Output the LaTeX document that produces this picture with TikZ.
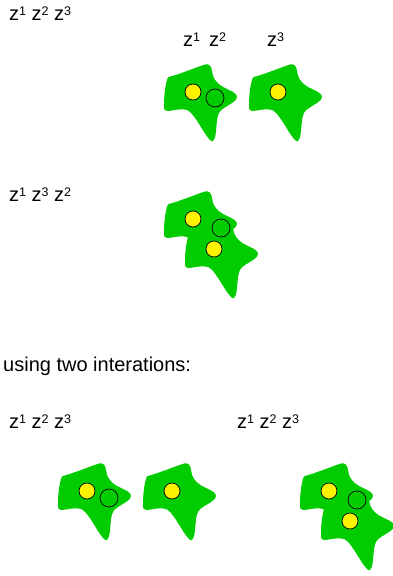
\documentclass[tikz,border=0pt]{standalone}
\usepackage{fontspec}
\setmainfont{Liberation Sans}
\definecolor{blobgreen}{RGB}{0,204,0}
\newcommand{\zsup}[1]{\raisebox{5pt}{\fontsize{12.5}{12.5}\selectfont #1}}
\tikzset{
  blob/.pic={\fill[blobgreen] (-24,-15)
     .. controls (-10,-19) and (4,-25) .. (12,-27.5)
     .. controls (16,-28.5) and (18.5,-26) .. (19,-21)
     .. controls (20,-14) and (22,-10) .. (30,-5)
     .. controls (38,-1) and (44,1) .. (44,5)
     .. controls (44,9) and (37,12) .. (31,16)
     .. controls (26,19) and (25,22) .. (24,28)
     .. controls (23,38) and (23,46) .. (20,49)
     .. controls (18,50) and (16,47) .. (13,43)
     .. controls (8,36) and (0,20) .. (-6,18)
     .. controls (-14,16) and (-20,19) .. (-26,19)
     .. controls (-29,19) and (-29,17) .. (-29,14)
     .. controls (-29,4) and (-28,-5) .. (-26,-12)
     .. controls (-25.5,-14) and (-25,-15) .. cycle;},
  yel/.style={circle,draw=black,fill=yellow,minimum size=16pt,inner sep=0pt,line width=0.7pt},
  ring/.style={circle,draw=black,minimum size=18pt,inner sep=0pt,line width=0.7pt},
  lbl/.style={anchor=base west,inner sep=0pt,font=\fontsize{20}{24}\selectfont}
}
\begin{document}
\begin{tikzpicture}[x=1pt,y=-1pt]
\useasboundingbox (0,0) rectangle (392,576);
% labels
\node[lbl] (t1) at (9,20) {z\zsup{1} z\zsup{2} z\zsup{3}};
\node[lbl] (t2a) at (183,46.7) {z\zsup{1}};
\node[lbl] (t2b) at (209,46.7) {z\zsup{2}};
\node[lbl] (t2c) at (267,46.7) {z\zsup{3}};
\node[lbl] (t3) at (9,201) {z\zsup{1} z\zsup{3} z\zsup{2}};
\node[lbl] (t4) at (3,371.7) {using two interations:};
\node[lbl] (t5) at (9,428) {z\zsup{1} z\zsup{2} z\zsup{3}};
\node[lbl] (t6) at (237,428) {z\zsup{1} z\zsup{2} z\zsup{3}};
% top row
\pic at (193,92) {blob};
\pic at (278,92) {blob};
\node[yel] (a1) at (193,92) {};
\node[ring] (a2) at (215,98) {};
\node[yel] (a3) at (278,92) {};
% middle merged
\pic at (193,219) {blob};
\pic at (214,249) {blob};
\node[yel] (b1) at (193,219) {};
\node[ring] (b2) at (221,228) {};
\node[yel] (b3) at (214,249) {};
% bottom row
\pic at (87,491) {blob};
\pic at (172,491) {blob};
\node[yel] (c1) at (87,491) {};
\node[ring] (c2) at (109,498) {};
\node[yel] (c3) at (172,491) {};
\pic at (329,491) {blob};
\pic at (350,521) {blob};
\node[yel] (d1) at (329,491) {};
\node[ring] (d2) at (357,500) {};
\node[yel] (d3) at (350,521) {};
\end{tikzpicture}
\end{document}
